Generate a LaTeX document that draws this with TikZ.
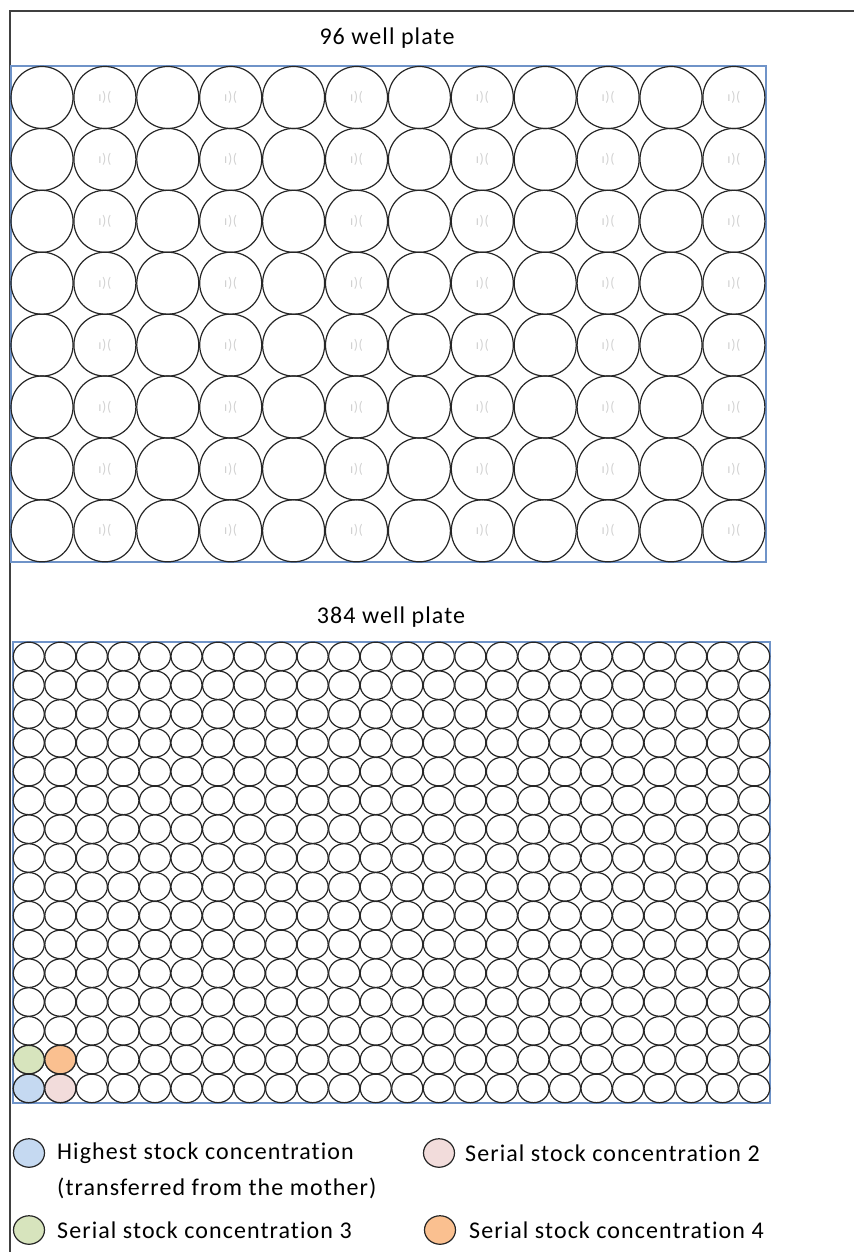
\documentclass[tikz,border=0pt]{standalone}
\usepackage{fontspec}
\setmainfont{Carlito}[LetterSpace=4.5, Ligatures=NoCommon]
\usepackage{xcolor}
\usetikzlibrary{positioning,shapes.geometric}
\definecolor{plateblue}{RGB}{111,147,200}
\definecolor{hiblue}{RGB}{197,217,241}
\definecolor{serpink}{RGB}{242,220,219}
\definecolor{sergreen}{RGB}{215,228,189}
\definecolor{serorange}{RGB}{250,192,144}

\begin{document}
\begin{tikzpicture}[
  x=1pt, y=-1pt,
  frame/.style={draw=black!75, line width=1.2pt},
  plate/.style={draw=plateblue, line width=1.4pt, inner sep=0pt},
  bigwell/.style={draw=black!85, circle, line width=1.2pt, minimum size=62pt, inner sep=0pt},
  smallwell/.style={draw=black!85, ellipse, line width=1.2pt, minimum width=31pt, minimum height=28.5pt, inner sep=0pt,
                    fill=#1},
  smallwell/.default=white,
  wellglyph/.style={font=\fontsize{14}{14}\selectfont, text=black!18, inner sep=0pt},
  title/.style={font=\fontsize{24}{24}\selectfont, inner sep=0pt},
  lab/.style={font=\fontsize{24}{24}\selectfont, anchor=west, inner sep=0pt}]
\useasboundingbox (0,0) rectangle (854,1252);
% outer frame (only top and left edge visible)
\coordinate (fl) at (10,1252);
\coordinate (ftl) at (10,11);
\coordinate (ftr) at (854,11);
\draw[frame] (fl) -- (ftl) -- (ftr);
% 96 well plate
\node[title] (t96) at (387,38) {96 well plate};
\node[plate, minimum width=755pt, minimum height=496pt] (p96) at (388.5,314) {};
\foreach \r in {1,...,8} {
  \foreach \c in {1,...,12} {
    \node[bigwell] (a-\r-\c) at ({42+(\c-1)*62.9},{97.5+(\r-1)*61.9}) {};
  }
  \foreach \c in {2,4,...,12}
    \node[wellglyph] at (a-\r-\c) {ı)(};
}
% 384 well plate
\node[title] (t384) at (391,617) {384 well plate};
\node[plate, minimum width=757pt, minimum height=461pt] (p384) at (391.5,872.5) {};
\foreach \r in {1,...,16}
  \foreach \c in {1,...,24}
    \node[smallwell] (b-\r-\c) at ({28.8+(\c-1)*31.54},{656.4+(\r-1)*28.8}) {};
% dilution series
\node[smallwell=sergreen] at (b-15-1) {};
\node[smallwell=serorange] at (b-15-2) {};
\node[smallwell=hiblue] at (b-16-1) {};
\node[smallwell=serpink] at (b-16-2) {};
% legend
\node[smallwell=hiblue] (k1) at (29,1153) {};
\node[lab] (l1) at (57,1153) {Highest stock concentration};
\node[lab] (l1b) at (57,1188) {(transferred from the mother)};
\node[smallwell=serpink] (k2) at (439,1153) {};
\node[lab] (l2) at (465,1153) {Serial stock concentration 2};
\node[smallwell=sergreen] (k3) at (29,1230) {};
\node[lab] (l3) at (57,1230) {Serial stock concentration 3};
\node[smallwell=serorange] (k4) at (440,1230) {};
\node[lab] (l4) at (469,1230) {Serial stock concentration 4};
\end{tikzpicture}
\end{document}
